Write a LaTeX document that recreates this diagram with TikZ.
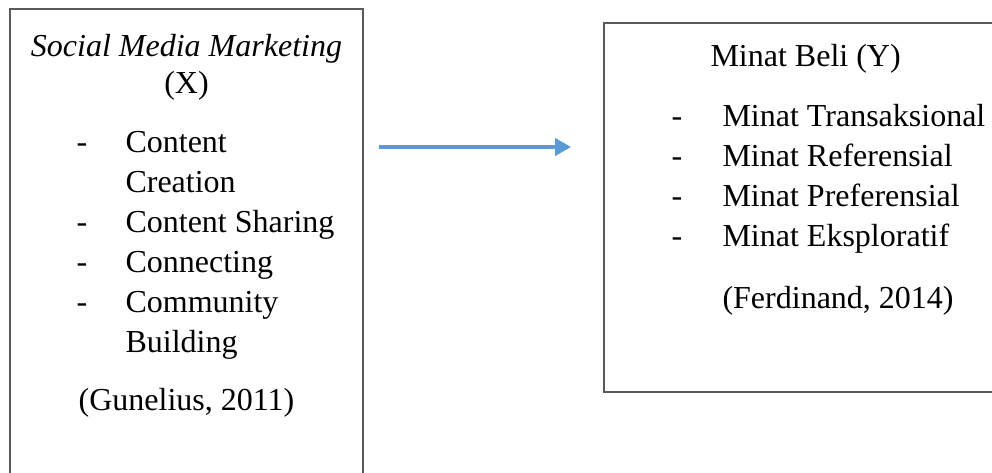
\documentclass[tikz,border=0pt]{standalone}
\usepackage{fontspec}
\setmainfont{Liberation Serif}
\usetikzlibrary{arrows.meta,fit}
\definecolor{flowblue}{RGB}{91,155,213}
\definecolor{boxgray}{RGB}{89,89,89}
\tikzstyle{box}=[draw=boxgray, line width=0.75pt, inner sep=0pt]
\tikzstyle{txt}=[inner sep=0pt, anchor=base west, font=\fontsize{12}{15}\selectfont]
\tikzstyle{ctxt}=[txt, anchor=base]
\tikzstyle{flow}=[draw=flowblue, line width=1.2pt, -{Triangle[length=6pt,width=6.5pt]}]

\begin{document}
\begin{tikzpicture}[x=0.375pt, y=-0.375pt]
		   \clip (0, 0) rectangle (992, 472);
		   \begin{scope}
			   \node (xbox) [box, fit={(10, 9) (363, 520)}] {};
			   \node (ybox) [box, fit={(604, 23) (1020, 392)}] {};

			   \node (xtitle) at (186.5, 56) [ctxt] {\textit{Social Media Marketing}};
			   \node (xvar) at (186.5, 93) [ctxt] {(X)};
			   \node (x1d) at (82, 152) [ctxt] {-};
			   \node (x1) at (125, 152) [txt] {Content};
			   \node (x1b) at (125, 192) [txt] {Creation};
			   \node (x2d) at (82, 232) [ctxt] {-};
			   \node (x2) at (125, 232) [txt] {Content Sharing};
			   \node (x3d) at (82, 272) [ctxt] {-};
			   \node (x3) at (125, 272) [txt] {Connecting};
			   \node (x4d) at (82, 312) [ctxt] {-};
			   \node (x4) at (125, 312) [txt] {Community};
			   \node (x4b) at (125, 352) [txt] {Building};
			   \node (xsrc) at (186.5, 410) [ctxt] {(Gunelius, 2011)};

			   \node (ytitle) at (710, 66) [txt] {Minat Beli (Y)};
			   \node (y1d) at (677, 126) [ctxt] {-};
			   \node (y1) at (722, 126) [txt] {Minat Transaksional};
			   \node (y2d) at (677, 166) [ctxt] {-};
			   \node (y2) at (722, 166) [txt] {Minat Referensial};
			   \node (y3d) at (677, 206) [ctxt] {-};
			   \node (y3) at (722, 206) [txt] {Minat Preferensial};
			   \node (y4d) at (677, 246) [ctxt] {-};
			   \node (y4) at (722, 246) [txt] {Minat Eksploratif};
			   \node (ysrc) at (722, 308) [txt] {(Ferdinand, 2014)};

			   \coordinate (xout) at (379, 147);
			   \coordinate (yin) at (571, 147);
		   \end{scope}
		   \begin{scope}
			   \path [flow] (xout) -- (yin);
		   \end{scope}
	   \end{tikzpicture}
\end{document}
